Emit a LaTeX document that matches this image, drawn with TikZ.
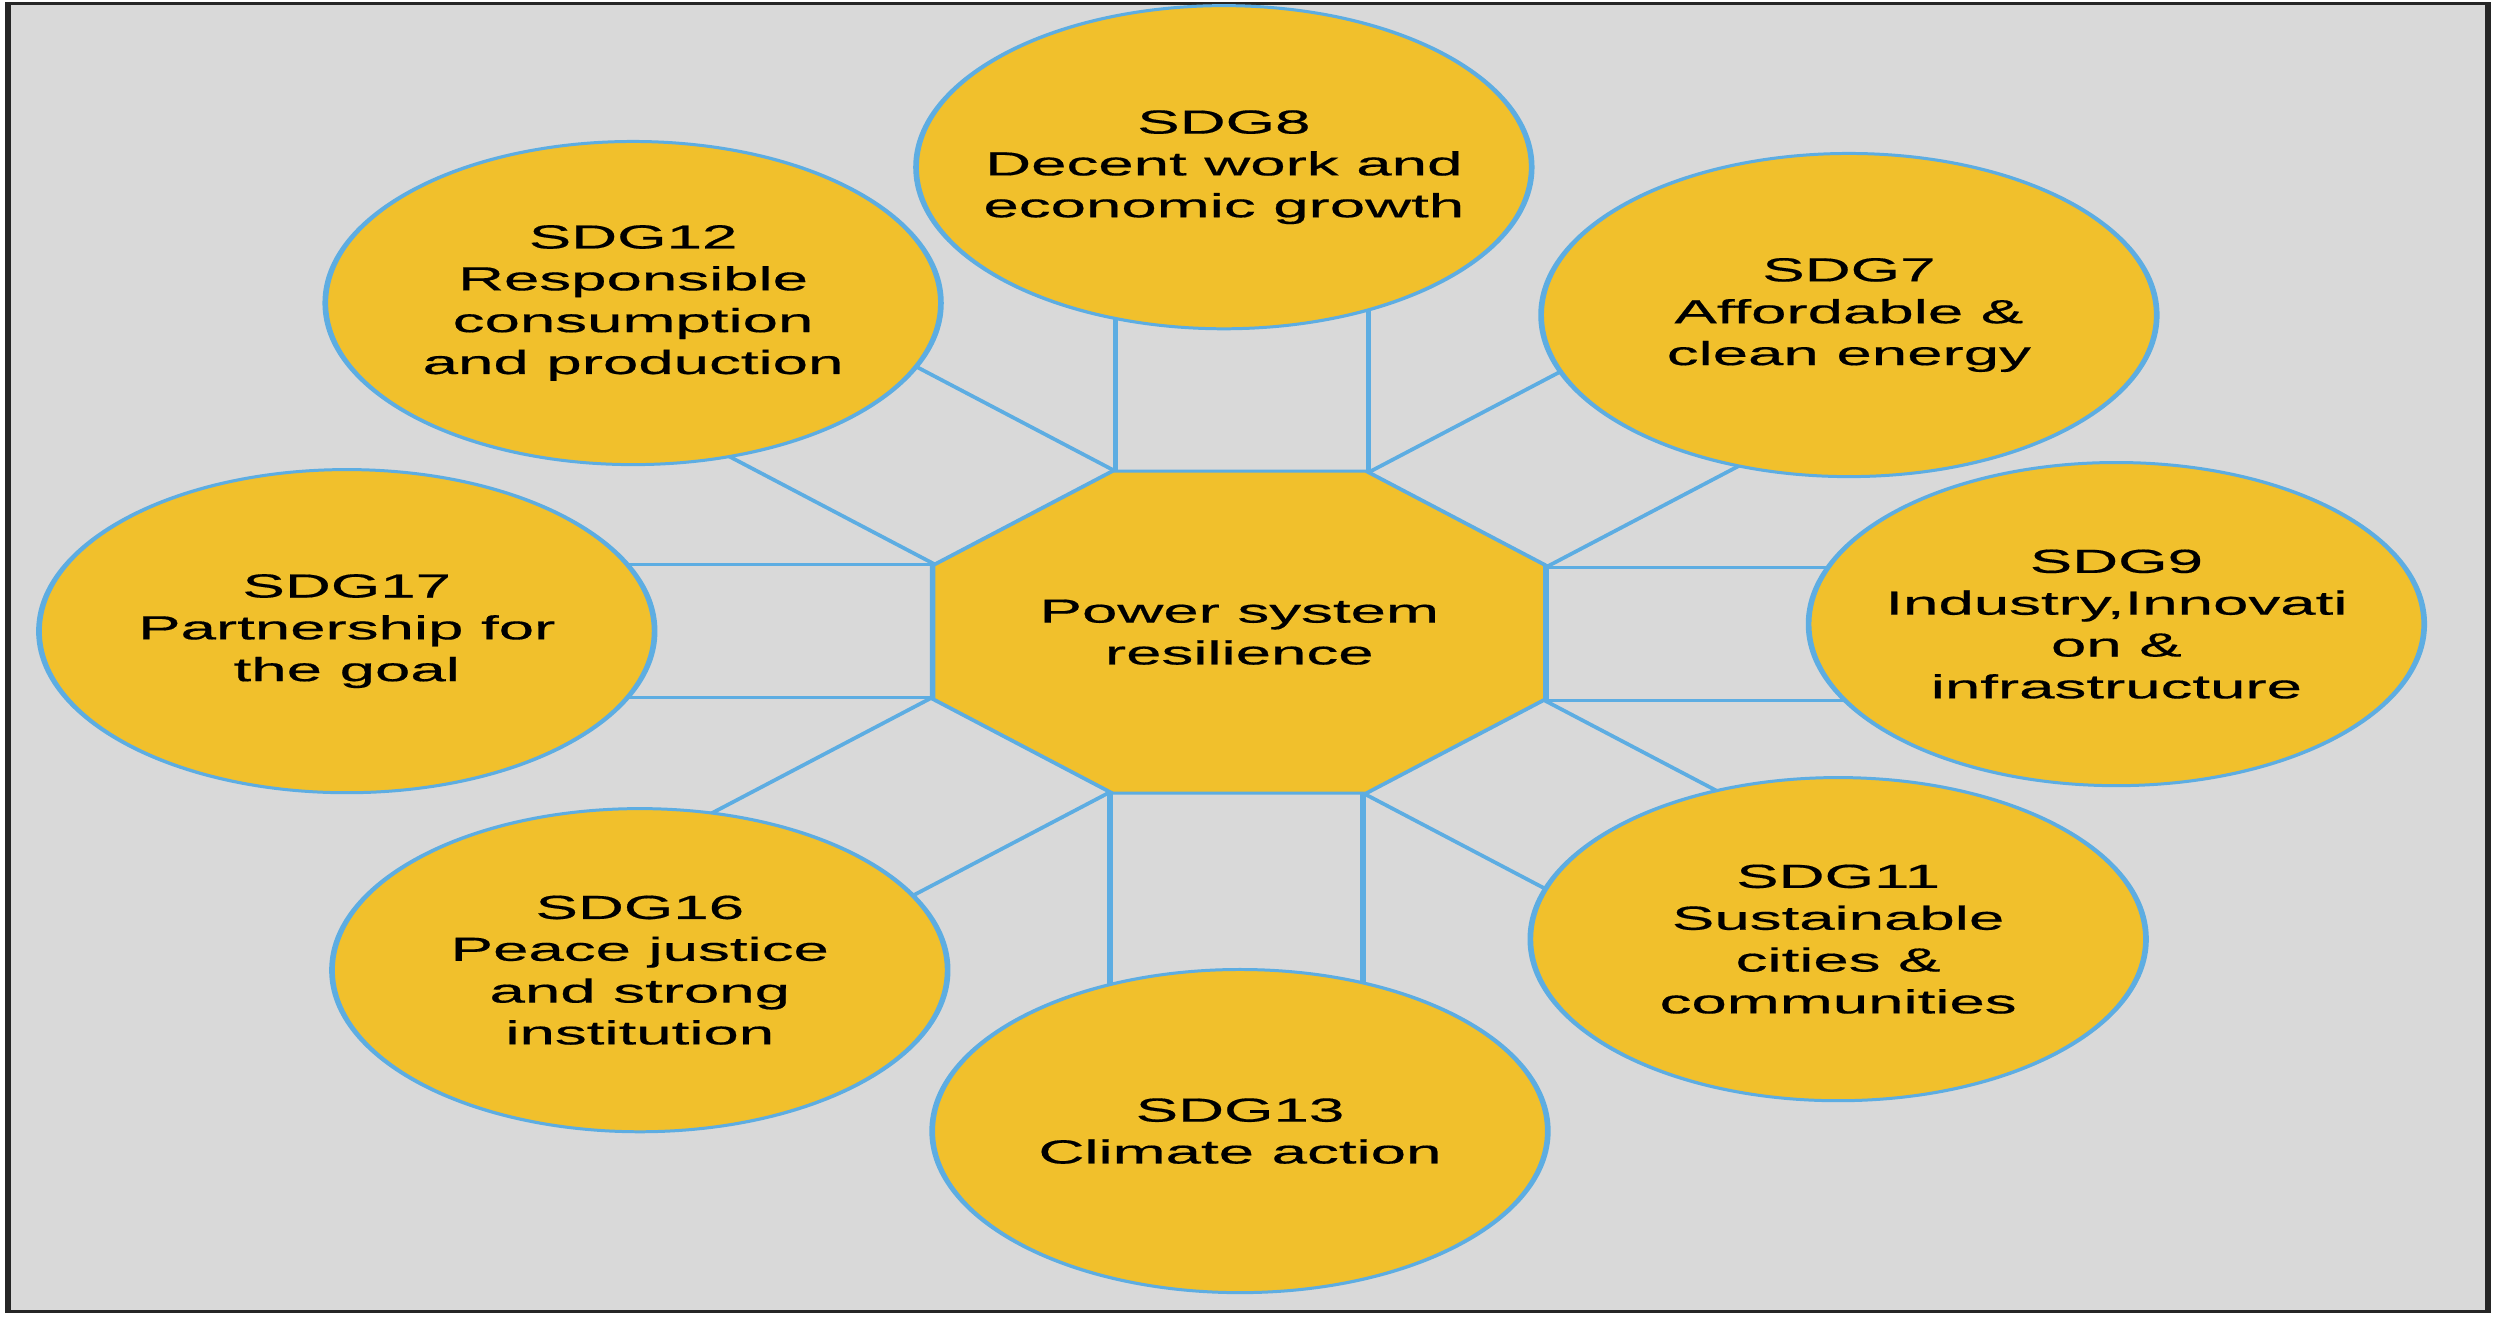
\documentclass[tikz,border=0pt]{standalone}
\usepackage{fontspec}
\setmainfont[FakeBold=0.4]{Liberation Sans}
\usetikzlibrary{shapes.geometric}

\definecolor{sdgfill}{HTML}{F1C02C}
\definecolor{sdgline}{HTML}{5DADE2}
\definecolor{panel}{HTML}{D9D9D9}

\begin{document}
\begin{tikzpicture}[
  goal/.style={draw=sdgline, fill=sdgfill, line width=0.85pt, circle,
    minimum size=91.6bp, inner sep=0pt, outer sep=0pt, align=center,
    font=\fontsize{9.5}{11.9}\selectfont},
  hub/.style={draw=sdgline, fill=sdgfill, line width=0.85pt,
    regular polygon, regular polygon sides=8, minimum size=98.8bp,
    inner sep=0pt, outer sep=0pt, align=center,
    font=\fontsize{9.5}{11.9}\selectfont},
  link/.style={draw=sdgline, line width=0.85pt}]
\useasboundingbox (0bp,0bp) rectangle (707.2bp,374.2bp);
\begin{scope}[transform canvas={xscale=1.905}]
%%
  \draw [fill=panel, draw=black!85, line width=1pt] (1.2bp,2.5bp) rectangle (370.2bp,373.2bp);
  \node (oct) at (184.4bp,195.0bp) [hub] {Power system\\resilience};
  \draw [link] (oct.112.5) -- ++(90:70bp) coordinate (e8l);
  \draw [link] (oct.67.5) -- ++(90:70bp) coordinate (e8r);
  \draw [link] (oct.67.5) -- ++(45:70bp) coordinate (e7l);
  \draw [link] (oct.22.5) -- ++(45:70bp) coordinate (e7r);
  \draw [link] (oct.22.5) -- ++(0:70bp) coordinate (e9l);
  \draw [link] (oct.337.5) -- ++(0:70bp) coordinate (e9r);
  \draw [link] (oct.337.5) -- ++(315:70bp) coordinate (e11l);
  \draw [link] (oct.292.5) -- ++(315:70bp) coordinate (e11r);
  \draw [link] (oct.292.5) -- ++(270:70bp) coordinate (e13l);
  \draw [link] (oct.247.5) -- ++(270:70bp) coordinate (e13r);
  \draw [link] (oct.247.5) -- ++(225:70bp) coordinate (e16l);
  \draw [link] (oct.202.5) -- ++(225:70bp) coordinate (e16r);
  \draw [link] (oct.202.5) -- ++(180:70bp) coordinate (e17l);
  \draw [link] (oct.157.5) -- ++(180:70bp) coordinate (e17r);
  \draw [link] (oct.157.5) -- ++(135:70bp) coordinate (e12l);
  \draw [link] (oct.112.5) -- ++(135:70bp) coordinate (e12r);
  \node (g8) at (182.1bp,326.8bp) [goal] {SDG8\\Decent work and\\economic growth};
  \node (g12) at (94.2bp,288.3bp) [goal] {SDG12\\Responsible\\consumption\\and production};
  \node (g7) at (275.1bp,284.9bp) [goal] {SDG7\\Affordable \&\\clean energy};
  \node (g17) at (51.6bp,195.3bp) [goal] {SDG17\\Partnership for\\the goal};
  \node (g9) at (314.9bp,197.3bp) [goal] {SDG9\\Industry,Innovati\\on \&\\infrastructure};
  \node (g16) at (95.2bp,99.2bp) [goal] {SDG16\\Peace justice\\and strong\\institution};
  \node (g13) at (184.5bp,53.6bp) [goal] {SDG13\\Climate action};
  \node (g11) at (273.5bp,108.0bp) [goal] {SDG11\\Sustainable\\cities \&\\communities};
%
\end{scope}
\end{tikzpicture}
\end{document}
